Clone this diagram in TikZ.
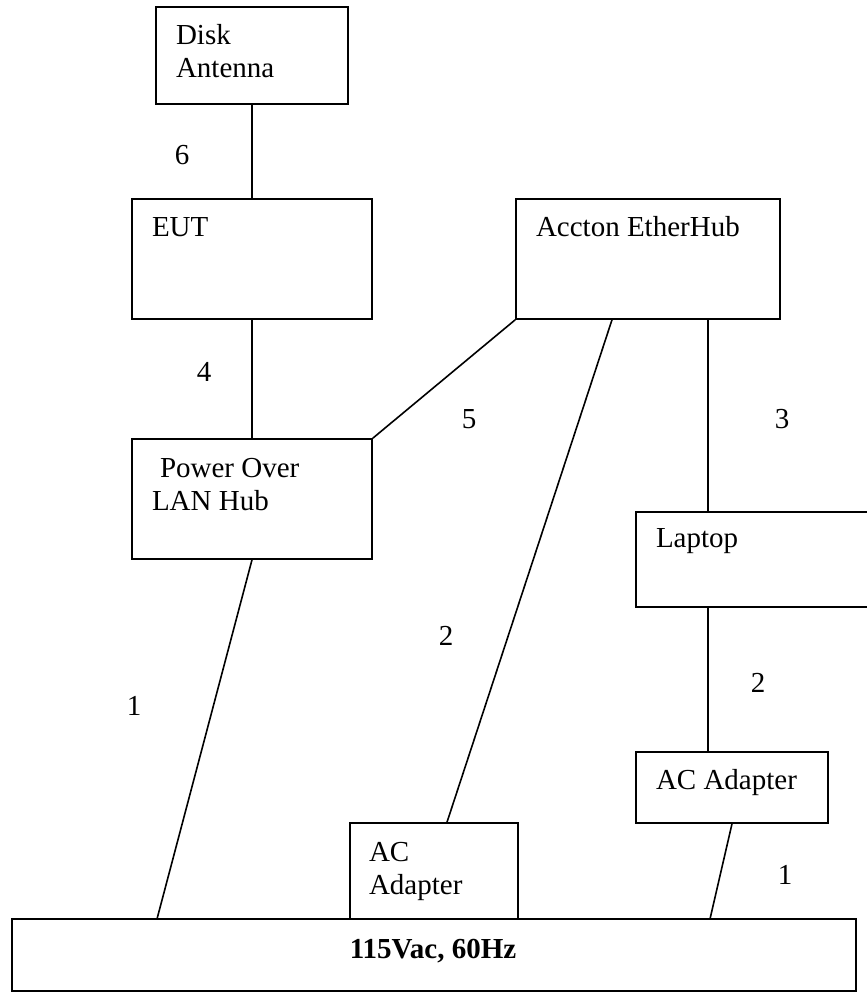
\documentclass[tikz,border=0pt]{standalone}
\usepackage{fontspec}
\setmainfont{Liberation Serif}

\tikzset{
  unit/.style 2 args={draw,line width=0.8pt,inner sep=0pt,minimum width=#1*0.5pt,minimum height=#2*0.5pt},
  tag/.style={anchor=base west,inner sep=0pt,align=left},
  num/.style={inner sep=0pt}
}

\begin{document}
\begin{tikzpicture}[x=0.5pt,y=-0.5pt,line width=0.8pt,font=\fontsize{14.5}{16.5}\selectfont]
  \useasboundingbox (0,0) rectangle (867,992);
  % boxes
  \node[unit={192}{97}] (disk) at (252,55.5) {};
  \node[unit={240}{120}] (eut) at (252,259) {};
  \node[unit={264}{120}] (hub) at (648,259) {};
  \node[unit={240}{120}] (pol) at (252,499) {};
  \node[unit={264}{95}] (laptop) at (768,559.5) {};
  \node[unit={192}{71}] (acr) at (732,787.5) {};
  \node[unit={168}{96}] (acm) at (434,871) {};
  \node[unit={844}{72}] (mains) at (434,955) {};
  % box texts (two-line ones sit on their last line)
  \node[tag] at ([shift={(20,71)}]disk.north west) {Disk\\Antenna};
  \node[tag] at ([shift={(20,38)}]eut.north west) {EUT};
  \node[tag] at ([shift={(20,38)}]hub.north west) {Accton EtherHub};
  \node[tag] at ([shift={(20,72)}]pol.north west) {\hspace{4pt}Power Over\\LAN Hub};
  \node[tag] at ([shift={(20,36)}]laptop.north west) {Laptop};
  \node[tag] at ([shift={(20,38)}]acr.north west) {AC Adapter};
  \node[tag] at ([shift={(19,72)}]acm.north west) {AC\\Adapter};
  \node[inner sep=0pt] at (433,951) {\textbf{115Vac, 60Hz}};
  % cables
  \coordinate (plugA) at (157,919);
  \coordinate (plugB) at (710,919);
  \draw (disk.south) -- (eut.north);
  \draw (eut.south) -- (pol.north);
  \draw (hub.south west) -- (pol.north east);
  \draw ([xshift=-18pt]hub.south) -- ([xshift=6.5pt]acm.north);
  \draw ([xshift=30pt]hub.south) -- ([xshift=-30pt]laptop.north);
  \draw ([xshift=-30pt]laptop.south) -- ([xshift=-12pt]acr.north);
  \draw (acr.south) -- (plugB);
  \draw (pol.south) -- (plugA);
  % cable numbers
  \node[num] at (182,155) {6};
  \node[num] at (204,372) {4};
  \node[num] at (469,419) {5};
  \node[num] at (782,419) {3};
  \node[num] at (446,636) {2};
  \node[num] at (758,683) {2};
  \node[num] at (134,706) {1};
  \node[num] at (785,875) {1};
\end{tikzpicture}
\end{document}
